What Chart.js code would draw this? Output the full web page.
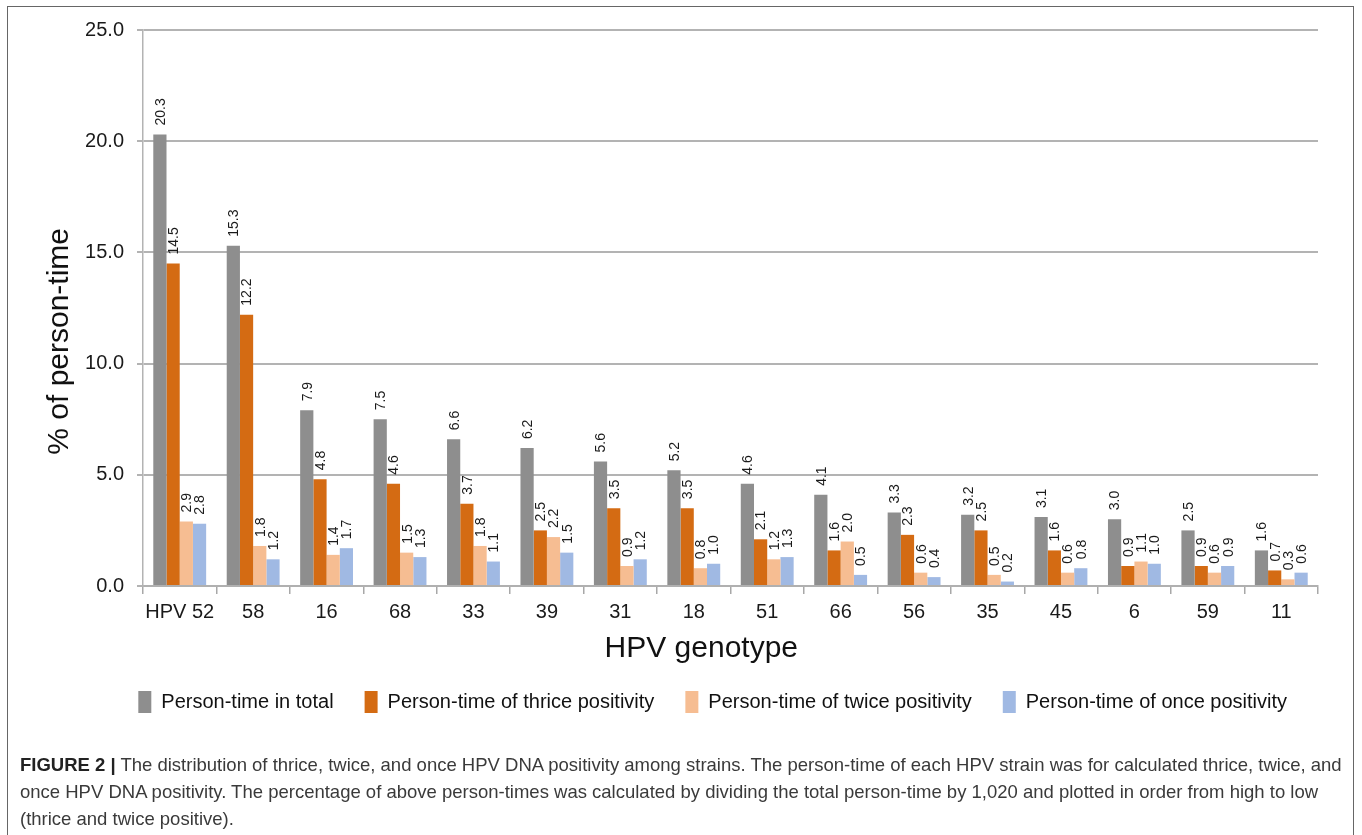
<!DOCTYPE html>
<html>
<head>
<meta charset="utf-8">
<script src="https://cdn.jsdelivr.net/npm/chart.js@4.4.1/dist/chart.umd.min.js"></script>
<style>
  html, body { margin: 0; padding: 0; background: #fff; }
  body { width: 1362px; height: 835px; position: relative; overflow: hidden;
         font-family: "Liberation Sans", Arial, Helvetica, sans-serif; }
  #frame { position: absolute; left: 7px; top: 6px; width: 1347px; height: 860px;
           border: 1.5px solid #666; box-sizing: border-box; }
  #chart { position: absolute; left: 0; top: 0; }
  #caption { position: absolute; left: 20px; top: 751px; font-size: 18.5px; line-height: 27px;
             color: #3a3a3a; white-space: nowrap; }
  #caption b { color: #222; }
</style>
</head>
<body>
<div id="frame"></div>
<canvas id="chart" width="1362" height="760"></canvas>
<div id="caption"><b>FIGURE 2 |</b> The distribution of thrice, twice, and once HPV DNA positivity among strains. The person-time of each HPV strain was for calculated thrice, twice, and<br>once HPV DNA positivity. The percentage of above person-times was calculated by dividing the total person-time by 1,020 and plotted in order from high to low<br>(thrice and twice positive).</div>
<script>
// HPV genotypes, ordered by total person-time
const genotypes = ['HPV 52', '58', '16', '68', '33', '39', '31', '18', '51', '66', '56', '35', '45', '6', '59', '11'];

// % of person-time per genotype
const totalPct  = [20.3, 15.3, 7.9, 7.5, 6.6, 6.2, 5.6, 5.2, 4.6, 4.1, 3.3, 3.2, 3.1, 3.0, 2.5, 1.6];
const thricePct = [14.5, 12.2, 4.8, 4.6, 3.7, 2.5, 3.5, 3.5, 2.1, 1.6, 2.3, 2.5, 1.6, 0.9, 0.9, 0.7];
const twicePct  = [2.9, 1.8, 1.4, 1.5, 1.8, 2.2, 0.9, 0.8, 1.2, 2.0, 0.6, 0.5, 0.6, 1.1, 0.6, 0.3];
const oncePct   = [2.8, 1.2, 1.7, 1.3, 1.1, 1.5, 1.2, 1.0, 1.3, 0.5, 0.4, 0.2, 0.8, 1.0, 0.9, 0.6];

const seriesNames = ['Person-time in total', 'Person-time of thrice positivity',
                     'Person-time of twice positivity', 'Person-time of once positivity'];
const seriesColors = ['#8e8e8e', '#d46b13', '#f6bd92', '#a0b9e3'];

const yTicks = [0, 5, 10, 15, 20, 25];

const FONT = '"Liberation Sans", Arial, Helvetica, sans-serif';

// Rotated value labels above each bar
const barValueLabels = {
  id: 'barValueLabels',
  afterDatasetsDraw(chart) {
    const ctx = chart.ctx;
    ctx.save();
    ctx.font = '14px ' + FONT;
    ctx.fillStyle = '#1a1a1a';
    ctx.textAlign = 'left';
    ctx.textBaseline = 'middle';
    chart.data.datasets.forEach((ds, di) => {
      const meta = chart.getDatasetMeta(di);
      meta.data.forEach((bar, i) => {
        ctx.save();
        ctx.translate(bar.x, bar.y - 9);
        ctx.rotate(-Math.PI / 2);
        ctx.fillText(ds.data[i].toFixed(1), 0, 1);
        ctx.restore();
      });
    });
    ctx.restore();
  }
};

const datasets = [totalPct, thricePct, twicePct, oncePct].map((vals, k) => ({
  label: seriesNames[k],
  data: vals,
  backgroundColor: seriesColors[k],
  borderWidth: 0,
  categoryPercentage: 0.72,
  barPercentage: 1.0
}));

new Chart(document.getElementById('chart'), {
  type: 'bar',
  data: { labels: genotypes, datasets },
  plugins: [barValueLabels],
  options: {
    responsive: false,
    animation: false,
    devicePixelRatio: 1,
    layout: { padding: { left: 0, right: 44, top: 30, bottom: 37 } },
    plugins: {
      tooltip: { enabled: false },
      legend: {
        display: true,
        position: 'bottom',
        align: 'end',
        fullSize: true,
        labels: {
          boxWidth: 13,
          boxHeight: 22,
          padding: 31,
          color: '#111',
          font: { family: FONT, size: 20 }
        }
      }
    },
    scales: {
      x: {
        offset: true,
        grid: { display: true, drawOnChartArea: false, drawTicks: true, tickLength: 8,
                offset: true, color: '#a8a8a8', lineWidth: 1.5 },
        border: { display: true, color: '#b0b0b0', width: 2 },
        ticks: { color: '#1a1a1a', padding: 6, font: { family: FONT, size: 20 }, maxRotation: 0 },
        title: { display: true, text: 'HPV genotype\u00a0\u00a0\u00a0\u00a0\u00a0\u00a0\u00a0', color: '#111',
                 font: { family: FONT, size: 30, lineHeight: 1 }, padding: { top: 0, bottom: -4 } },
        afterFit(scale) { scale.height = 74; }
      },
      y: {
        min: 0,
        max: 25,
        afterBuildTicks(scale) { scale.ticks = yTicks.map(v => ({ value: v })); },
        grid: { color: '#b3b3b3', lineWidth: 2, drawTicks: true, tickLength: 6 },
        border: { display: true, color: '#b3b3b3', width: 1.5 },
        ticks: { color: '#1a1a1a', padding: 13, font: { family: FONT, size: 20 },
                 callback: v => Number(v).toFixed(1) },
        title: { display: true, text: '% of person-time\u00a0\u00a0\u00a0\u00a0\u00a0\u00a0\u00a0\u00a0', color: '#111',
                 font: { family: FONT, size: 30, lineHeight: 1 }, padding: { top: 45, bottom: 0 } },
        afterFit(scale) { scale.width = 143; }
      }
    }
  }
});
</script>
</body>
</html>
